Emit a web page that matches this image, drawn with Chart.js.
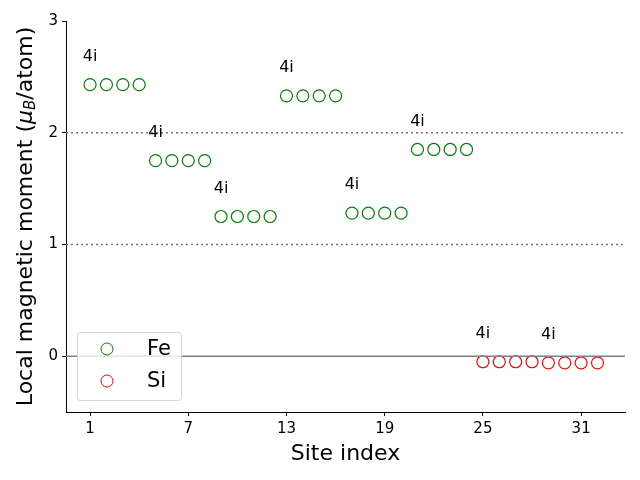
<!DOCTYPE html>
<html>
<head>
<meta charset="utf-8">
<script src="https://cdn.jsdelivr.net/npm/chart.js@4"></script>
<style>
  body { margin: 0; background: #fff; }
  #wrap { width: 640px; height: 480px; }
</style>
</head>
<body>
<div id="wrap"><canvas id="momentGraph"></canvas></div>
<script>
const feSites = [1, 2, 3, 4, 5, 6, 7, 8, 9, 10, 11, 12, 13, 14, 15, 16, 17, 18, 19, 20, 21, 22, 23, 24];
const feMoments = [2.43, 2.43, 2.43, 2.43, 1.75, 1.75, 1.75, 1.75, 1.25, 1.25, 1.25, 1.25,
  2.33, 2.33, 2.33, 2.33, 1.28, 1.28, 1.28, 1.28, 1.85, 1.85, 1.85, 1.85];
const siSites = [25, 26, 27, 28, 29, 30, 31, 32];
const siMoments = [-0.05, -0.05, -0.05, -0.05, -0.06, -0.06, -0.06, -0.06];

const labelSites = [1, 5, 9, 13, 17, 21, 25, 29];
const labelHeights = [2.68, 2.0, 1.5, 2.58, 1.53, 2.1, 0.2, 0.19];
const labelTexts = ['4i', '4i', '4i', '4i', '4i', '4i', '4i', '4i'];

const xTicks = [1, 7, 13, 19, 25, 31];
const yTicks = [0, 1, 2, 3];
const xMin = -0.47, xMax = 33.68;

const ctxMoment = document.getElementById('momentGraph').getContext('2d');

function toPoints(xs, ys) {
  return xs.map((x, i) => ({x: x, y: ys[i]}));
}

function refLine(y, color, dash) {
  return {
    type: 'line',
    data: [{x: xMin, y: y}, {x: xMax, y: y}],
    borderColor: color,
    borderWidth: 1.5,
    borderDash: dash,
    pointRadius: 0,
    fill: false
  };
}

// text labels + y title with subscript + legend box
const extras = {
  id: 'extras',
  afterDatasetsDraw(chart) {
    const c = chart.ctx;
    const xs = chart.scales.x, ys = chart.scales.y;
    c.save();
    c.fillStyle = '#000';
    c.font = '16px "DejaVu Sans"';
    c.textAlign = 'center';
    c.textBaseline = 'middle';
    labelSites.forEach((s, i) => {
      c.fillText(labelTexts[i], xs.getPixelForValue(s), ys.getPixelForValue(labelHeights[i]));
    });

    // legend
    const lx = 77, ly = 332, lw = 104, lh = 68;
    c.fillStyle = 'rgba(255,255,255,0.8)';
    c.strokeStyle = '#d6d6d6';
    c.lineWidth = 1;
    c.beginPath();
    c.roundRect(lx + 0.5, ly + 0.5, lw, lh, 3);
    c.fill();
    c.stroke();
    const entries = [['Fe', 'green', 349], ['Si', 'red', 381]];
    c.font = '21px "DejaVu Sans"';
    c.textAlign = 'left';
    entries.forEach(e => {
      c.beginPath();
      c.arc(107, e[2], 6, 0, Math.PI * 2);
      c.strokeStyle = e[1];
      c.stroke();
      c.fillStyle = '#000';
      c.fillText(e[0], 147, e[2] + 1);
    });

    // y axis title
    c.translate(26, (chart.chartArea.top + chart.chartArea.bottom) / 2);
    c.rotate(-Math.PI / 2);
    const parts = [
      ['Local magnetic moment (', '22px "DejaVu Sans"', 0],
      ['\u03bc', 'italic 22px "DejaVu Sans"', 0],
      ['B', 'italic 15px "DejaVu Sans"', 5],
      ['/atom)', '22px "DejaVu Sans"', 0]
    ];
    let total = 0;
    parts.forEach(p => { c.font = p[1]; total += c.measureText(p[0]).width; });
    let px = -total / 2;
    c.fillStyle = '#000';
    c.textAlign = 'left';
    parts.forEach(p => {
      c.font = p[1];
      c.fillText(p[0], px, p[2]);
      px += c.measureText(p[0]).width;
    });
    c.restore();
  }
};

new Chart(ctxMoment, {
  type: 'scatter',
  data: {
    datasets: [
      refLine(1, '#777', [2, 3]),
      refLine(2, '#777', [2, 3]),
      refLine(0, '#808080', []),
      {
        label: 'Fe',
        data: toPoints(feSites, feMoments),
        borderColor: 'green',
        backgroundColor: 'rgba(0,0,0,0)',
        borderWidth: 1.2,
        pointRadius: 6
      },
      {
        label: 'Si',
        data: toPoints(siSites, siMoments),
        borderColor: 'red',
        backgroundColor: 'rgba(0,0,0,0)',
        borderWidth: 1.2,
        pointRadius: 6
      }
    ]
  },
  options: {
    animation: false,
    responsive: true,
    maintainAspectRatio: false,
    layout: { padding: { top: 21, right: 15, left: 0, bottom: 9 } },
    plugins: {
      legend: { display: false },
      tooltip: { enabled: false }
    },
    scales: {
      x: {
        type: 'linear',
        min: xMin,
        max: xMax,
        afterBuildTicks: s => { s.ticks = xTicks.map(v => ({value: v})); },
        afterFit: s => { s.height = 59; },
        grid: { drawOnChartArea: false, tickLength: 4, color: '#000' },
        border: { color: '#000', width: 1 },
        ticks: { color: '#000', font: { family: 'DejaVu Sans', size: 15 }, padding: 4, maxRotation: 0 },
        title: { display: true, text: 'Site index', color: '#000', font: { family: 'DejaVu Sans', size: 22 }, padding: { top: 0 } }
      },
      y: {
        min: -0.5,
        max: 3,
        afterBuildTicks: s => { s.ticks = yTicks.map(v => ({value: v})); },
        afterFit: s => { s.width = 66; },
        grid: { drawOnChartArea: false, tickLength: 4, color: '#000' },
        border: { color: '#000', width: 1 },
        ticks: { color: '#000', font: { family: 'DejaVu Sans', size: 15 }, padding: 4 }
      }
    }
  },
  plugins: [extras]
});
</script>
</body>
</html>
